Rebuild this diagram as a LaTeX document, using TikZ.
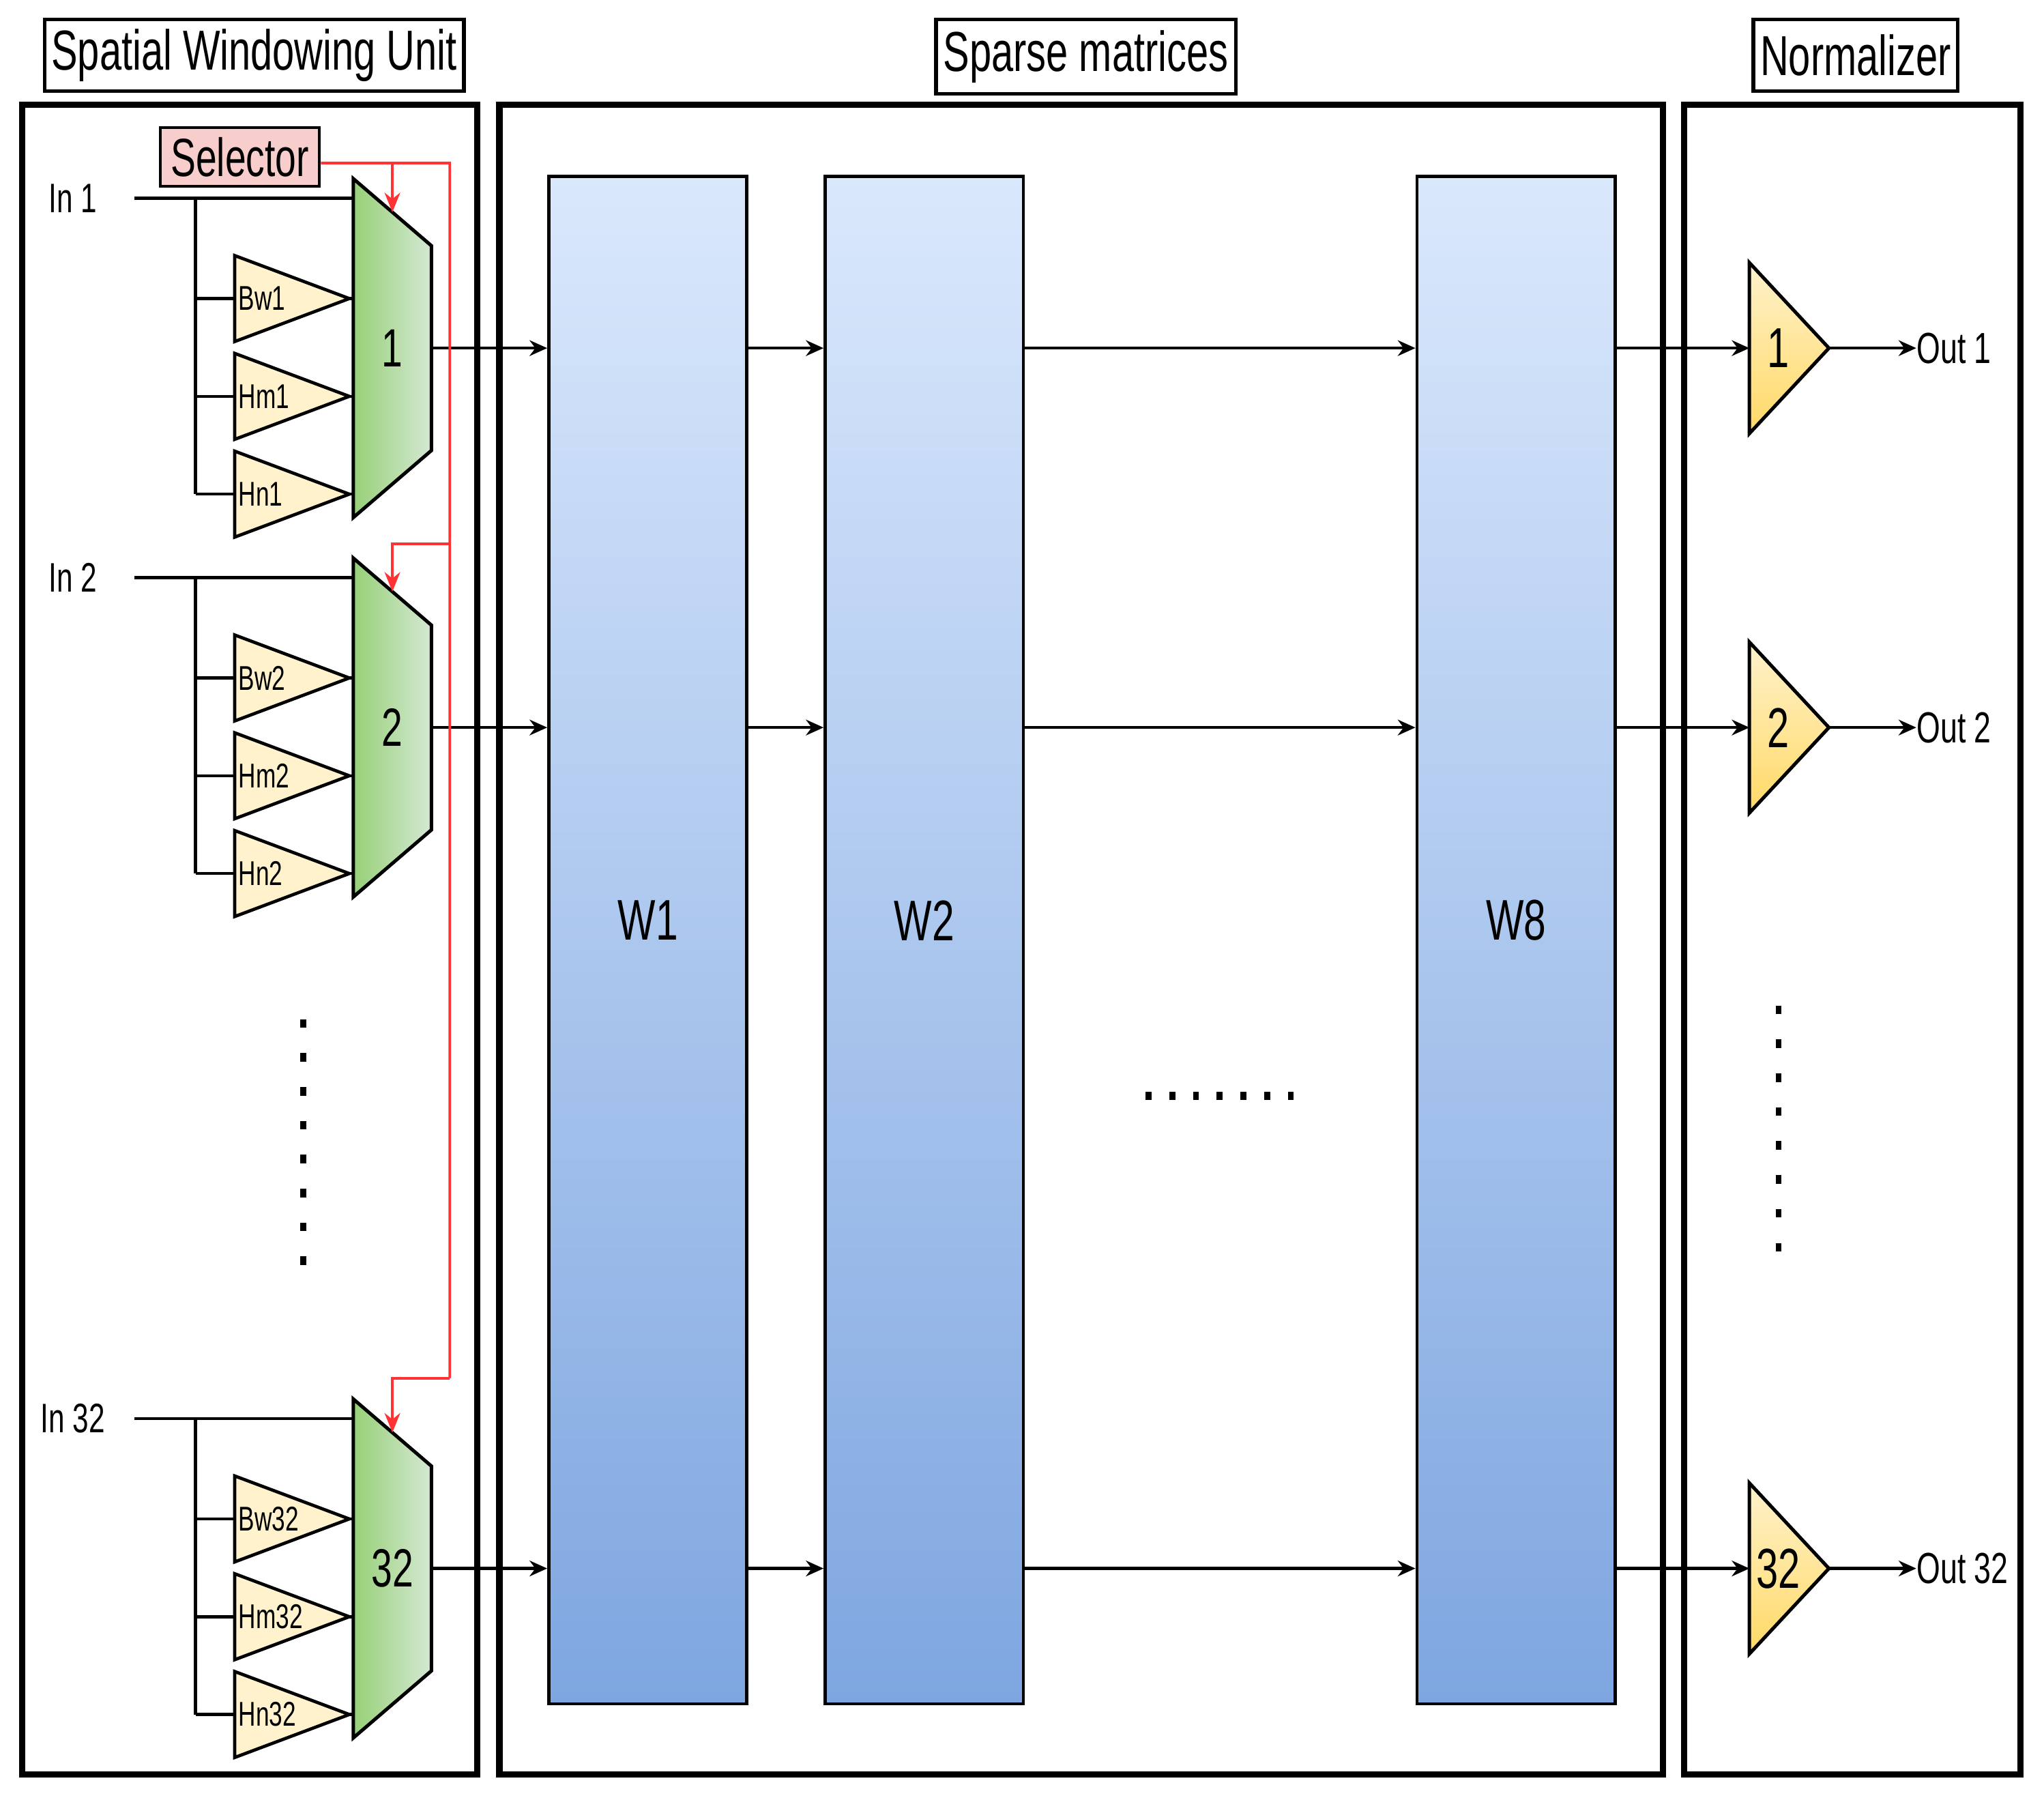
\documentclass[tikz,border=0pt]{standalone}
\usepackage{fontspec}
\setmainfont{Liberation Sans}[FakeStretch=0.7]
\usepackage{xcolor}
\usepackage{tikz}
\usetikzlibrary{positioning, arrows.meta, calc}

\definecolor{selpink}{HTML}{F8CECC}
\definecolor{triyellow}{HTML}{FFF2CC}
\definecolor{normyellow}{HTML}{FFD966}
\definecolor{muxgreen}{HTML}{97D077}
\definecolor{muxlight}{HTML}{D5E8D4}
\definecolor{wtop}{HTML}{DAE8FC}
\definecolor{wbottom}{HTML}{7EA6E0}
\definecolor{selred}{HTML}{FF3333}

\begin{document}
\begin{tikzpicture}[x=0.02cm, y=-0.02cm,
  titlebox/.style={draw, line width=1.6pt, minimum height=1.1cm, inner xsep=3pt, font=\fontsize{24.6}{28}\selectfont},
  unit/.style={draw, line width=2.7pt, inner sep=0pt},
  ghost/.style={inner sep=0pt, outer sep=0pt},
  wire/.style={line width=1.35pt},
  arrow/.style={line width=1.35pt, -{Stealth[length=0.27cm, width=0.24cm]}},
  redwire/.style={selred, line width=1.15pt},
  redarrow/.style={redwire, -{Stealth[length=0.3cm, width=0.24cm]}},
  selbox/.style={draw, fill=selpink, line width=1.3pt, minimum width=2.44cm, minimum height=0.9cm, inner sep=0pt, font=\fontsize{23.5}{26}\selectfont},
  wbox/.style={draw, line width=1.4pt, top color=wtop, bottom color=wbottom, minimum width=3.04cm, minimum height=23.44cm, inner sep=0pt},
  wlabel/.style={font=\fontsize{25}{28}\selectfont},
  muxshape/.style={draw, line width=1.5pt, left color=muxgreen, right color=muxlight},
  muxlabel/.style={font=\fontsize{23.5}{26}\selectfont},
  trishape/.style={draw, line width=1.4pt, fill=triyellow},
  trilabel/.style={anchor=west, inner sep=1.5pt, font=\fontsize{15}{17}\selectfont},
  inlabel/.style={font=\fontsize{18}{20}\selectfont},
  normshape/.style={draw, line width=1.5pt, top color=triyellow, bottom color=normyellow},
  normlabel/.style={font=\fontsize{24.6}{28}\selectfont},
  outlabel/.style={anchor=west, inner sep=0pt, font=\fontsize{19}{21}\selectfont}]

\useasboundingbox (0,0) rectangle (1568,1379);

% the three units and their titles
\node[unit, minimum width=6.98cm, minimum height=25.62cm] (swu) at (191.5,720.5) {};
\node[unit, minimum width=17.86cm, minimum height=25.62cm] (sparse) at (829.5,720.5) {};
\node[unit, minimum width=5.16cm, minimum height=25.62cm] (norm) at (1421,720.5) {};
\node[titlebox, minimum width=6.4cm] (swutitle) at (195,42.5) {Spatial Windowing Unit};
\node[titlebox, minimum width=4.6cm, minimum height=1.14cm] (sparsetitle) at (833,43.5) {Sparse matrices};
\node[titlebox, minimum width=3.06cm] (normtitle) at (1423.5,42.5) {Normalizer};

% sparse matrices
\node[wbox] (W1) at (497,721) {};
\node[wbox] (W2) at (709,721) {};
\node[wbox] (W8) at (1163,721) {};
\node[wlabel] at ($(W1.center)+(0,-15)$) {W1};
\node[wlabel] at ($(W2.center)+(0,-15)$) {W2};
\node[wlabel] at ($(W8.center)+(0,-15)$) {W8};

\node[selbox] (sel) at (184,120.5) {Selector};

\foreach \n/\y in {1/267, 2/558, 32/1203} {
  % windowing channel
  \node[inlabel] (in\n) at (56,\y-115) {In \n};
  \coordinate (inend\n) at (103,\y-115);
  \coordinate (bus\n) at (150,\y-115);
  \node[ghost, minimum width=1.2cm, minimum height=5.2cm] (mux\n) at (301,\y) {};
  \draw[muxshape] (mux\n.north west) -- ($(mux\n.north east)+(0,51.5)$) -- ($(mux\n.south east)+(0,-51.5)$) -- (mux\n.south west) -- cycle;
  \node[muxlabel] at (mux\n) {\n};
  \coordinate (top\n) at ($(mux\n.north west)!0.5!(mux\n.north east)+(0,25.75)$);
  \draw[wire] (inend\n) -- (mux\n.west |- inend\n);
  \foreach \t/\dy in {Bw/-38, Hm/37, Hn/112} {
    \node[ghost, minimum width=1.76cm, minimum height=1.32cm] (\t\n) at (224,{\y+(\dy)}) {};
    \draw[trishape] (\t\n.north west) -- (\t\n.east) -- (\t\n.south west) -- cycle;
    \node[trilabel] at (\t\n.west) {\t\n};
    \draw[wire] (bus\n |- \t\n.west) -- (\t\n.west);
    \draw[wire] (\t\n.east) -- (mux\n.west |- \t\n.east);
  }
  \draw[wire] (bus\n) -- (bus\n |- Hn\n.west);
  % normalizer channel
  \node[ghost, minimum width=1.22cm, minimum height=2.62cm] (norm\n) at (1372.5,\y) {};
  \draw[normshape] (norm\n.north west) -- (norm\n.east) -- (norm\n.south west) -- cycle;
  \node[normlabel] at ($(norm\n.west)!0.36!(norm\n.east)$) {\n};
  \node[outlabel] (out\n) at (1470,\y) {Out \n};
  % data path
  \draw[arrow] (mux\n.east) -- (W1.west |- mux\n.east);
  \draw[arrow] (W1.east |- mux\n.east) -- (W2.west |- mux\n.east);
  \draw[arrow] (W2.east |- mux\n.east) -- (W8.west |- mux\n.east);
  \draw[arrow] (W8.east |- mux\n.east) -- (norm\n.west);
  \draw[arrow] (norm\n.east) -- (out\n.west);
}

% selector lines
\draw[redwire] ($(sel.east)+(0,4.5)$) -- (345,125) -- (345,1057);
\draw[redarrow] (301,125) -- (top1);
\draw[redarrow] (345,417) -- (301,417) -- (top2);
\draw[redarrow] (345,1057) -- (301,1057) -- (top32);

% dots
\foreach \i in {0,...,7} {
  \fill (230.2,781.7+26*\i) rectangle ++(4.6,6.6);
  \fill (1362.1,771.3+26*\i) rectangle ++(4.6,6.6);
}
\foreach \i in {0,...,6}
  \fill (878.7+18.2*\i,837.2) rectangle ++(4.6,6.6);
\end{tikzpicture}
\end{document}
